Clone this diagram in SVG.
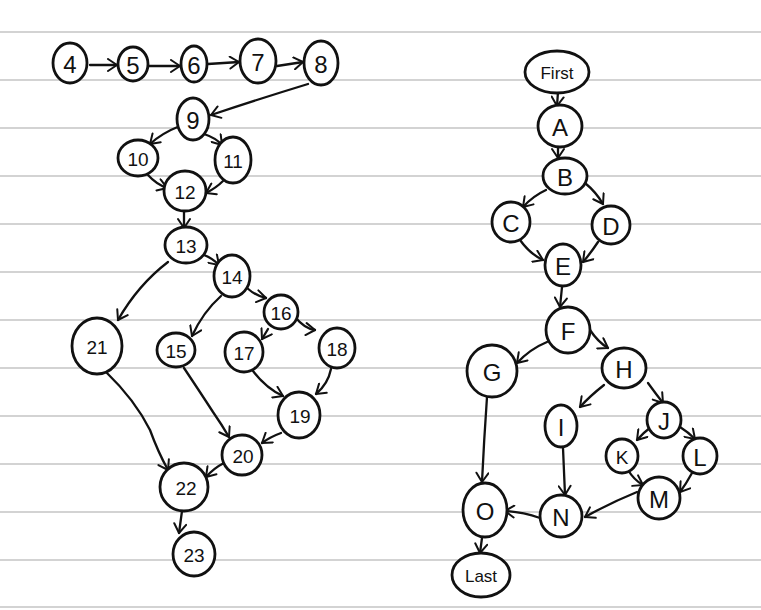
<svg xmlns="http://www.w3.org/2000/svg" width="761" height="610" viewBox="0 0 761 610">
<defs>
<marker id="a" markerWidth="14" markerHeight="14" refX="11" refY="7" orient="auto" markerUnits="userSpaceOnUse">
<path d="M2,1 L11,7 L2,13" fill="none" stroke="#111" stroke-width="2" stroke-linecap="round" stroke-linejoin="round"/>
</marker>
</defs>
<style>
.rule{stroke:#c4c4c4;stroke-width:1.3}
.n ellipse{fill:#fff;stroke:#111;stroke-width:2.8}
.n text{font-family:"Liberation Sans","DejaVu Sans",sans-serif;font-size:24px;fill:#111;text-anchor:middle;dominant-baseline:central}
.n text.s{font-size:19px}
.n text.w{font-size:17px}
#edges path{fill:none;stroke:#111;stroke-width:2.3;stroke-linecap:round;marker-end:url(#a)}
</style>
<rect width="761" height="610" fill="#fff"/>
<g id="rules">
<line class="rule" x1="0" y1="32" x2="761" y2="32"/>
<line class="rule" x1="0" y1="80" x2="761" y2="80"/>
<line class="rule" x1="0" y1="128" x2="761" y2="128"/>
<line class="rule" x1="0" y1="176" x2="761" y2="176"/>
<line class="rule" x1="0" y1="224" x2="761" y2="224"/>
<line class="rule" x1="0" y1="272" x2="761" y2="272"/>
<line class="rule" x1="0" y1="320" x2="761" y2="320"/>
<line class="rule" x1="0" y1="368" x2="761" y2="368"/>
<line class="rule" x1="0" y1="416" x2="761" y2="416"/>
<line class="rule" x1="0" y1="464" x2="761" y2="464"/>
<line class="rule" x1="0" y1="512" x2="761" y2="512"/>
<line class="rule" x1="0" y1="560" x2="761" y2="560"/>
<line class="rule" x1="0" y1="607" x2="761" y2="607"/>
</g>
<g id="edges">
<path d="M90,65 L117,65"/>
<path d="M148,66 L180,66"/>
<path d="M208,64 L239,62"/>
<path d="M277,66 L303,62"/>
<path d="M308,84 Q262,98 211,115"/>
<path d="M180,126 Q162,133 150,144"/>
<path d="M204,134 Q216,138 222,145"/>
<path d="M148,175 Q156,184 167,188"/>
<path d="M223,181 Q216,188 206,193"/>
<path d="M184,211 L184,228"/>
<path d="M204,255 Q212,258 219,265"/>
<path d="M168,262 Q138,285 118,320"/>
<path d="M221,296 Q203,312 192,336"/>
<path d="M247,288 Q256,296 266,298"/>
<path d="M268,329 L262,339"/>
<path d="M295,317 Q305,329 315,330"/>
<path d="M253,371 Q266,388 283,396"/>
<path d="M331,369 Q328,384 316,394"/>
<path d="M281,433 Q270,437 262,443"/>
<path d="M184,368 Q200,392 213,412 Q222,425 229,437"/>
<path d="M106,372 Q135,400 150,430 Q158,452 168,470"/>
<path d="M224,463 Q214,468 206,477"/>
<path d="M182,511 L179,533"/>
<path d="M558,92 L557,106"/>
<path d="M558,147 L558,158"/>
<path d="M546,190 Q533,196 523,207"/>
<path d="M585,183 Q596,192 603,204"/>
<path d="M520,240 Q530,254 543,260"/>
<path d="M598,242 Q590,254 583,262"/>
<path d="M562,287 L560,307"/>
<path d="M547,342 Q530,349 517,363"/>
<path d="M590,330 Q598,342 608,348"/>
<path d="M604,385 Q590,396 580,407"/>
<path d="M648,383 Q656,394 663,403"/>
<path d="M651,427 Q643,433 637,440"/>
<path d="M680,427 Q688,432 695,439"/>
<path d="M628,470 Q634,480 643,485"/>
<path d="M692,473 Q686,484 680,492"/>
<path d="M637,492 Q610,503 585,517"/>
<path d="M563,448 Q564,472 565,495"/>
<path d="M487,397 Q484,440 482,482"/>
<path d="M540,518 Q522,512 505,511"/>
<path d="M482,538 L480,553"/>
</g>
<g id="n4" class="n"><ellipse cx="70" cy="63" rx="17" ry="20"/><text x="70" y="64">4</text></g>
<g id="n5" class="n"><ellipse cx="133" cy="64" rx="15" ry="17"/><text x="133" y="65">5</text></g>
<g id="n6" class="n"><ellipse cx="194" cy="64" rx="13" ry="18"/><text x="194" y="65">6</text></g>
<g id="n7" class="n"><ellipse cx="258" cy="61" rx="18" ry="22"/><text x="258" y="62">7</text></g>
<g id="n8" class="n"><ellipse cx="321" cy="63" rx="17" ry="22"/><text x="321" y="64">8</text></g>
<g id="n9" class="n"><ellipse cx="193" cy="119" rx="16" ry="21"/><text x="193" y="120">9</text></g>
<g id="n10" class="n"><ellipse cx="138" cy="158" rx="20" ry="18"/><text class="s" x="138" y="159">10</text></g>
<g id="n11" class="n"><ellipse cx="233" cy="160" rx="18" ry="23"/><text class="s" x="233" y="161">11</text></g>
<g id="n12" class="n"><ellipse cx="185" cy="191" rx="21" ry="20"/><text class="s" x="185" y="192">12</text></g>
<g id="n13" class="n"><ellipse cx="186" cy="245" rx="21" ry="18"/><text class="s" x="186" y="246">13</text></g>
<g id="n14" class="n"><ellipse cx="232" cy="276" rx="18" ry="21"/><text class="s" x="232" y="277">14</text></g>
<g id="n15" class="n"><ellipse cx="176" cy="350" rx="19" ry="17"/><text class="s" x="176" y="351">15</text></g>
<g id="n16" class="n"><ellipse cx="281" cy="312" rx="17" ry="17"/><text class="s" x="281" y="313">16</text></g>
<g id="n17" class="n"><ellipse cx="244" cy="352" rx="19" ry="20"/><text class="s" x="244" y="353">17</text></g>
<g id="n18" class="n"><ellipse cx="337" cy="348" rx="18" ry="20"/><text class="s" x="337" y="349">18</text></g>
<g id="n19" class="n"><ellipse cx="299" cy="415" rx="21" ry="23"/><text class="s" x="300" y="416">19</text></g>
<g id="n20" class="n"><ellipse cx="242" cy="455" rx="20" ry="20"/><text class="s" x="243" y="456">20</text></g>
<g id="n21" class="n"><ellipse cx="97" cy="346" rx="25" ry="28"/><text class="s" x="97" y="347">21</text></g>
<g id="n22" class="n"><ellipse cx="184" cy="487" rx="24" ry="24"/><text class="s" x="186" y="488">22</text></g>
<g id="n23" class="n"><ellipse cx="194" cy="554" rx="21" ry="22"/><text class="s" x="194" y="555">23</text></g>
<g id="nFirst" class="n"><ellipse cx="557" cy="72" rx="32" ry="21"/><text class="w" x="557" y="73">First</text></g>
<g id="nA" class="n"><ellipse cx="560" cy="126" rx="22" ry="21"/><text x="560" y="127">A</text></g>
<g id="nB" class="n"><ellipse cx="565" cy="176" rx="22" ry="18"/><text x="565" y="177">B</text></g>
<g id="nC" class="n"><ellipse cx="511" cy="222" rx="19" ry="20"/><text x="511" y="223">C</text></g>
<g id="nD" class="n"><ellipse cx="611" cy="225" rx="19" ry="19"/><text x="611" y="226">D</text></g>
<g id="nE" class="n"><ellipse cx="563" cy="265" rx="18" ry="21"/><text x="563" y="266">E</text></g>
<g id="nF" class="n"><ellipse cx="568" cy="330" rx="22" ry="23"/><text x="568" y="331">F</text></g>
<g id="nG" class="n"><ellipse cx="492" cy="371" rx="25" ry="26"/><text x="492" y="372">G</text></g>
<g id="nH" class="n"><ellipse cx="624" cy="368" rx="22" ry="20"/><text x="624" y="369">H</text></g>
<g id="nI" class="n"><ellipse cx="561" cy="426" rx="16" ry="21"/><text x="561" y="427">I</text></g>
<g id="nJ" class="n"><ellipse cx="664" cy="420" rx="17" ry="18"/><text x="664" y="421">J</text></g>
<g id="nK" class="n"><ellipse cx="622" cy="456" rx="16" ry="17"/><text class="s" x="622" y="457">K</text></g>
<g id="nL" class="n"><ellipse cx="700" cy="456" rx="17" ry="18"/><text x="700" y="457">L</text></g>
<g id="nM" class="n"><ellipse cx="659" cy="498" rx="21" ry="21"/><text x="659" y="499">M</text></g>
<g id="nN" class="n"><ellipse cx="561" cy="516" rx="21" ry="21"/><text x="561" y="517">N</text></g>
<g id="nO" class="n"><ellipse cx="485" cy="510" rx="22" ry="27"/><text x="485" y="511">O</text></g>
<g id="nLast" class="n"><ellipse cx="481" cy="575" rx="29" ry="22"/><text class="w" x="481" y="576">Last</text></g>
</svg>
